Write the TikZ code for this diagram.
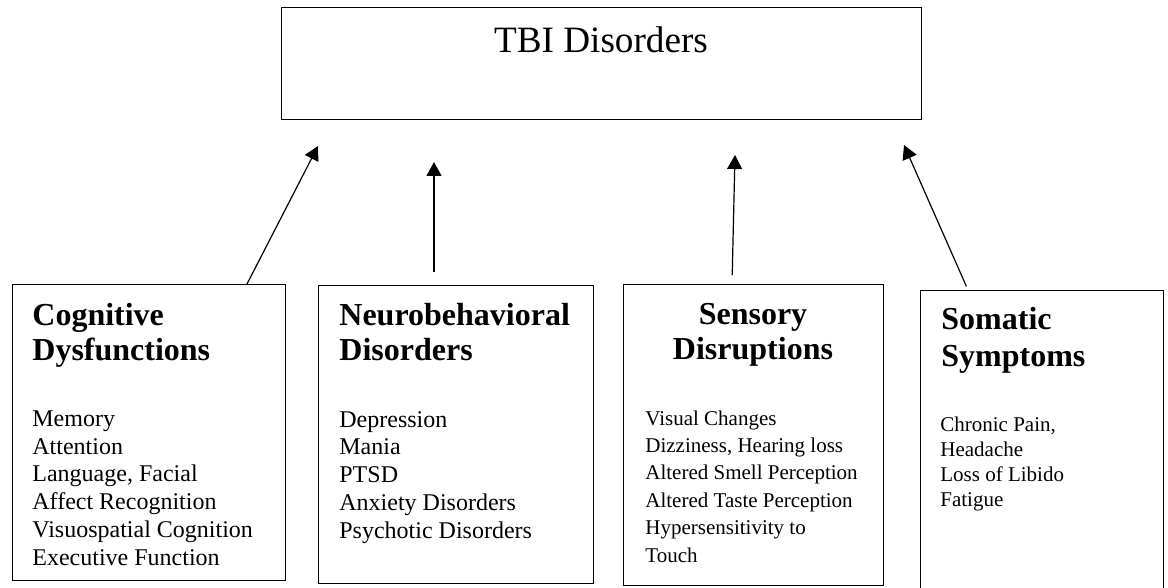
\documentclass[tikz,border=0pt]{standalone}
\usepackage{fontspec}
\setmainfont{Liberation Serif}
\usetikzlibrary{arrows.meta}
\begin{document}
\begin{tikzpicture}[x=0.5pt,y=-0.5pt,
 box/.style={draw,line width=0.6pt,inner sep=0pt,anchor=north west},
 head/.style={inner sep=0pt,align=left,anchor=base west,font=\fontsize{16}{17.5}\selectfont\bfseries},
 body/.style={inner sep=0pt,align=left,anchor=base west,font=\fontsize{12}{13.85}\selectfont},
 small/.style={body,font=\fontsize{10.5}{13.7}\selectfont},
 arr/.style={line width=0.6pt,-{Triangle[length=7pt,width=7.5pt]}}]
 \clip (0,0) rectangle (1168,588);
 % top box
 \node[box,minimum width=320pt,minimum height=56pt] (tbi) at (281,7) {};
 \node[inner sep=0pt,anchor=base,font=\fontsize{18.6}{20}\selectfont] (tbitxt) at (601,53) {TBI Disorders};
 % the four groups (text placed by the baseline of its last line)
 \node[box,minimum width=136.5pt,minimum height=148pt] (cog) at (12,284) {};
 \node[box,minimum width=137.5pt,minimum height=149pt] (neuro) at (318,285) {};
 \node[box,minimum width=130pt,minimum height=150.5pt] (sens) at (623,284) {};
 \node[box,minimum width=121.5pt,minimum height=156pt] (som) at (920,290) {};
 \node[head] (coghead) at (32,361) {Cognitive\\Dysfunctions};
 \node[head] (neurohead) at (339,361) {Neurobehavioral\\Disorders};
 \node[head,align=center,anchor=base] (senshead) at (753,360) {Sensory\\Disruptions};
 \node[head,font=\fontsize{16}{18.5}\selectfont\bfseries] (somhead) at (941,367) {Somatic\\Symptoms};
 \node[body] (cogtxt) at (32,565) {Memory\\Attention\\Language, Facial\\Affect Recognition\\Visuospatial Cognition\\Executive Function};
 \node[body] (neurotxt) at (339,538) {Depression\\Mania\\PTSD\\Anxiety Disorders\\Psychotic Disorders};
 \node[small] (senstxt) at (645,562) {Visual Changes\\Dizziness, Hearing loss\\Altered Smell Perception\\Altered Taste Perception\\Hypersensitivity to\\Touch};
 \node[small,font=\fontsize{10.5}{12.5}\selectfont] (somtxt) at (940,506) {Chronic Pain,\\Headache\\Loss of Libido\\Fatigue};
 % arrows
 \coordinate (t1) at (318,146);
 \coordinate (t2) at (434,162);
 \coordinate (t3) at (735,155);
 \coordinate (t4) at (904,145);
 \draw[arr] (cog.north west) ++(235,0) -- (t1);
 \draw[arr,shorten <=6.5pt] (neuro.north west) ++(116,0) -- (t2);
 \draw[arr,shorten <=4.5pt] (sens.north west) ++(109,0) -- (t3);
 \draw[arr,shorten <=2pt] (som.north west) ++(48,0) -- (t4);
\end{tikzpicture}
\end{document}
